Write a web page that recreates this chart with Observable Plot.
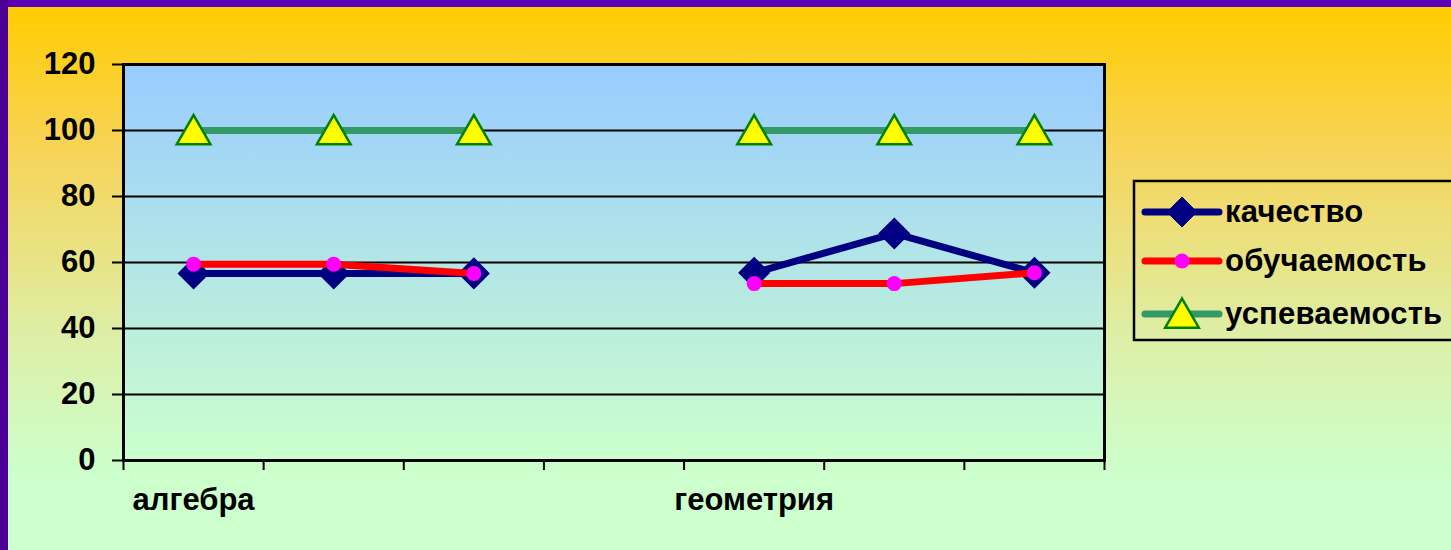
<!DOCTYPE html>
<html><head><meta charset="utf-8">
<script src="https://cdn.jsdelivr.net/npm/d3@7"></script>
<script src="https://cdn.jsdelivr.net/npm/@observablehq/plot@0.6"></script>
<style>
body{margin:0;}
#page{position:relative;width:1451px;height:550px;overflow:hidden;background:linear-gradient(to bottom,#FFCC00 1%,#F6D45A 28%,#DDEFA8 62%,#CCFFCC 86%);font-family:"Liberation Sans",Arial,sans-serif;}
#bt{position:absolute;left:0;top:0;width:1451px;height:7px;background:#5C00B8;}
#bl{position:absolute;left:0;top:0;width:8px;height:550px;background:#4B0096;}
#chart{position:absolute;left:0;top:0;}
#leg{position:absolute;left:0;top:0;}
</style></head>
<body><div id="page"><div id="chart"></div><svg id="leg" width="1451" height="550"></svg><div id="bt"></div><div id="bl"></div></div>
<script>
const slots = [0, 1, 2, 3, 4, 5, 6];
const categories = ["алгебра", "", "", "", "геометрия", "", ""];
const kachestvo = [56.7, 56.7, 56.7, null, 56.9, 68.8, 56.9];
const obuchaemost = [59.5, 59.5, 56.7, null, 53.6, 53.6, 56.9];
const uspevaemost = [100, 100, 100, null, 100, 100, 100];
const yTicks = [0, 20, 40, 60, 80, 100, 120];
const xBounds = [0, 1, 2, 3, 4, 5, 6, 7];
const seriesNames = ["качество", "обучаемость", "успеваемость"];

const X = i => i + 0.5;
const font = "Liberation Sans, Arial, sans-serif";

const defs = () => {
  const d = d3.create("svg:defs");
  const g = d.append("linearGradient").attr("id", "plotBg").attr("x1", 0).attr("y1", 0).attr("x2", 0).attr("y2", 1);
  g.append("stop").attr("offset", "0%").attr("stop-color", "#99CCFF");
  g.append("stop").attr("offset", "100%").attr("stop-color", "#CCFFCC");
  return d.node();
};

const chart = Plot.plot({
  width: 1451,
  height: 550,
  marginLeft: 123,
  marginRight: 347,
  marginTop: 64,
  marginBottom: 90,
  style: {background: "transparent", fontFamily: font, fontSize: "31px", fontWeight: "bold", color: "black"},
  x: {type: "linear", domain: [0, 7], axis: null},
  y: {domain: [0, 120], axis: null},
  marks: [
    defs,
    Plot.frame({fill: "url(#plotBg)"}),
    Plot.gridY(yTicks, {stroke: "black", strokeOpacity: 1, strokeWidth: 2}),
    Plot.axisY(yTicks, {tickSize: 11, tickPadding: 17, strokeWidth: 2, fontSize: 31, fontWeight: "bold"}),
    Plot.axisX(xBounds, {tickSize: 10, tickFormat: () => "", strokeWidth: 2}),
    Plot.frame({stroke: "black", strokeWidth: 3}),
    Plot.text(slots, {x: X, frameAnchor: "bottom", text: i => categories[i], lineAnchor: "top", dy: 27, fontSize: 31, fontWeight: "bold"}),
    Plot.line(slots, {x: X, y: i => kachestvo[i], stroke: "#000080", strokeWidth: 7}),
    Plot.dot(slots, {x: X, y: i => kachestvo[i], symbol: "diamond2", r: 13.5, fill: "#000080", stroke: "#000080", strokeWidth: 1.5}),
    Plot.line(slots, {x: X, y: i => obuchaemost[i], stroke: "#FF0000", strokeWidth: 7}),
    Plot.dot(slots, {x: X, y: i => obuchaemost[i], r: 7.5, fill: "#FF00FF"}),
    Plot.line(slots, {x: X, y: i => uspevaemost[i], stroke: "#339966", strokeWidth: 7}),
    Plot.dot(slots, {x: X, y: i => uspevaemost[i], symbol: "triangle", r: 12.5, dy: 4, fill: "#FFFF00", stroke: "#008000", strokeWidth: 2.5})
  ]
});
document.getElementById("chart").append(chart);

// Legend
const leg = d3.select("#leg");
leg.append("rect").attr("x", 1134).attr("y", 181).attr("width", 340).attr("height", 159)
  .attr("fill", "none").attr("stroke", "black").attr("stroke-width", 2.5);
const rowsY = [212, 261, 314];
const lineCol = ["#000080", "#FF0000", "#339966"];
seriesNames.forEach((name, k) => {
  const y = rowsY[k];
  leg.append("line").attr("x1", 1145).attr("x2", 1219).attr("y1", y).attr("y2", y)
    .attr("stroke", lineCol[k]).attr("stroke-width", 7).attr("stroke-linecap", "round");
  if (k === 0) {
    leg.append("path").attr("d", d3.symbol(d3.symbolDiamond2, Math.PI * 13.5 * 13.5)())
      .attr("transform", `translate(1182,${y})`).attr("fill", "#000080").attr("stroke", "#000080");
  } else if (k === 1) {
    leg.append("circle").attr("cx", 1182).attr("cy", y).attr("r", 7.5).attr("fill", "#FF00FF");
  } else {
    leg.append("path").attr("d", d3.symbol(d3.symbolTriangle, Math.PI * 12.5 * 12.5)())
      .attr("transform", `translate(1182,${y + 4})`).attr("fill", "#FFFF00").attr("stroke", "#008000").attr("stroke-width", 2.5);
  }
  leg.append("text").attr("x", 1225).attr("y", y + 10).text(name)
    .attr("font-family", font).attr("font-weight", "bold").attr("font-size", 31)
    .attr("letter-spacing", 0.2).attr("fill", "black");
});
</script>
</body></html>
